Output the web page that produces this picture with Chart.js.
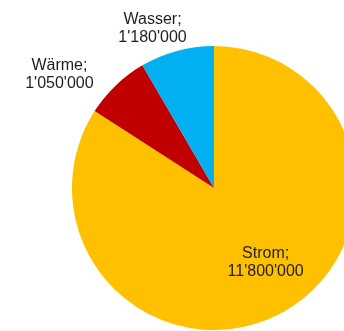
<!DOCTYPE html>
<html>
<head>
<meta charset="utf-8">
<script src="https://cdn.jsdelivr.net/npm/chart.js@4"></script>
<style>
  html, body { margin: 0; padding: 0; background: #fff; overflow: hidden; width: 344px; height: 331px; }
  #wrap { position: absolute; left: 0; top: 0; width: 428px; height: 376px; }
</style>
</head>
<body>
<div id="wrap"><canvas id="pieChart" width="428" height="376"></canvas></div>
<script>
// Daten
const categories = ['Strom', 'Wärme', 'Wasser'];
const values = [11800000, 1050000, 1180000];
const colors = ['#FFC000', '#C00000', '#00B0F0'];

// Platzierung der Beschriftungen: Abstand (Anteil am Radius) und Winkelkorrektur (Grad)
const labelDist = [0.64, 1.35, 1.2];
const labelShift = [-6, -10, -6];

// Zahlen mit Hochkomma trennen (1'180'000)
function fmt(v) {
    return String(v).replace(/\B(?=(\d{3})+(?!\d))/g, "'");
}

const labelPlugin = {
    id: 'sliceLabels',
    afterDatasetsDraw(chart) {
        const c = chart.ctx;
        const arcs = chart.getDatasetMeta(0).data;
        c.save();
        c.font = '16px "Liberation Sans", Arial, sans-serif';
        c.fillStyle = '#1e1e1e';
        c.textAlign = 'center';
        c.textBaseline = 'middle';
        arcs.forEach((arc, i) => {
            const mid = (arc.startAngle + arc.endAngle) / 2 + labelShift[i] * Math.PI / 180;
            const d = arc.outerRadius * labelDist[i];
            const x = arc.x + d * Math.cos(mid);
            const y = arc.y + d * Math.sin(mid);
            c.fillText(categories[i] + ';', x, y - 9);
            c.fillText(fmt(values[i]), x, y + 9);
        });
        c.restore();
    }
};

new Chart(document.getElementById('pieChart'), {
    type: 'pie',
    data: {
        labels: categories,
        datasets: [{
            data: values,
            backgroundColor: colors,
            borderWidth: 0
        }]
    },
    options: {
        responsive: false,
        animation: false,
        layout: { padding: { left: 72, right: 72, top: 46, bottom: 46 } },
        plugins: {
            legend: { display: false },
            tooltip: { enabled: false }
        }
    },
    plugins: [labelPlugin]
});
</script>
</body>
</html>
